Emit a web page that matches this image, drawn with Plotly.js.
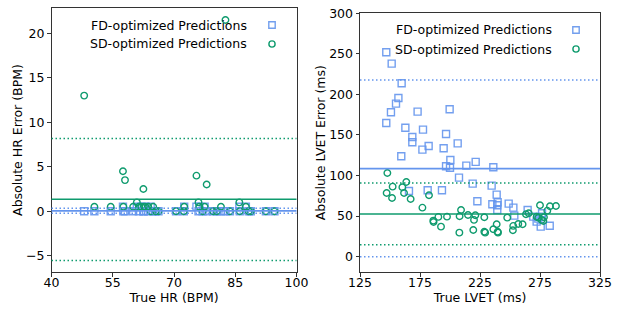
<!DOCTYPE html>
<html>
<head>
<meta charset="utf-8">
<script src="https://cdn.plot.ly/plotly-3.0.1.min.js"></script>
<style>html,body{margin:0;padding:0;background:#fff}#chart{width:623px;height:312px}</style>
</head>
<body>
<div id="chart"></div>
<script>
// ---------- HR panel data ----------
const hrTrue = [48.0, 50.5, 54.5, 57.5, 57.6, 58.0, 60.0, 60.9, 61.4, 62.0, 62.5, 62.6, 63.0, 63.7, 64.3, 64.9, 65.5, 66.2, 70.5, 72.4, 72.5, 75.5, 76.0, 76.2, 77.0, 77.5, 78.0, 79.6, 80.5, 81.5, 82.6, 83.7, 86.0, 86.1, 87.6, 88.3, 88.8, 92.5, 94.6];
const hrErrFD = [0, 0, 0, 0.5, 0, 0, 0, 0.5, 0, 0.5, 0, 0, 0.5, 0, 0.5, 0, 0, 0, 0, 0, 0.5, 0.5, 0, 0.5, 0, 0.5, 0, 0, 0, 0, 0, 0, 0.5, 0, 0.5, 0, 0, 0, 0];
const hrErrSD = [13.0, 0.5, 0.5, 4.5, 0.5, 3.5, 0.5, 1.0, 0.5, 0.5, 2.5, 0.5, 0.5, 0.5, 0, 0.5, 0, 0, 0, 0, 0.5, 4.0, 1.0, 0.5, 0, 0.5, 3.0, 0, 0, 0.5, 21.5, 0, 1.0, 0, 0.5, 0, 0, 0, 0];
// mean / limit lines [lower, mean, upper]
const hrLinesFD = [-0.22, 0.04, 0.34];
const hrLinesSD = [-5.55, 1.35, 8.18];

// ---------- LVET panel data ----------
const lvetTrueFD = [146.9, 151.4, 159.7, 157.0, 155.0, 150.8, 173.0, 199.7, 146.9, 162.8, 177.5, 196.7, 168.6, 168.6, 182.2, 177.0, 194.7, 206.4, 159.4, 200.3, 196.7, 200.0, 213.6, 221.4, 236.1, 207.5, 218.9, 234.7, 165.8, 181.4, 193.3, 238.9, 222.8, 239.7, 248.9, 235.3, 239.4, 252.8, 264.7, 239.4, 253.6, 269.4, 276.7, 273.6, 272.2, 275.6, 283.1, 276.4];
const lvetErrFD = [252, 238, 213.7, 195.6, 188.7, 178, 178.8, 181.7, 164.8, 159, 156.6, 151.3, 147.6, 141, 136.5, 132, 133.6, 139.7, 123.7, 119.2, 111.4, 109.7, 112.2, 116.8, 110.2, 97.4, 90, 87.6, 81, 81.8, 81.8, 76.5, 68.3, 67.1, 65.4, 64.6, 63.4, 60.4, 57.6, 57.6, 50.6, 49.3, 53.5, 46.9, 43.2, 37, 38.2, 49.3];
const lvetTrueSD = [147.8, 152.2, 147.2, 151.7, 160.3, 163.6, 161.7, 167.2, 177.0, 182.5, 186.1, 186.3, 190.3, 192.5, 197.5, 207.8, 208.0, 209.2, 215.0, 219.4, 220.0, 221.1, 228.6, 228.6, 229.3, 236.1, 238.9, 240.0, 239.7, 247.7, 252.7, 252.4, 256.9, 260.5, 263.3, 265.6, 272.2, 273.6, 275.0, 276.4, 277.8, 281.1, 283.3, 288.3, 278.3];
const lvetErrSD = [103.2, 86.3, 78.5, 72.4, 85.6, 92.1, 78.5, 71.1, 60.4, 75.7, 44.4, 42.8, 49.0, 37.0, 49.3, 29.6, 49.8, 57.6, 51.4, 32.9, 45.3, 51.0, 48.6, 30.8, 29.6, 33.8, 39.9, 29.6, 30.8, 48.1, 37.9, 32.5, 40.3, 39.9, 52.3, 53.5, 49.3, 48.0, 63.4, 45.3, 44.0, 56.7, 62.1, 62.5, 48.6];
const lvetLinesFD = [0, 108.5, 217.8];
const lvetLinesSD = [14.8, 52.6, 90.8];

// ---------- tick labels ----------
const hrXTicks = [40, 55, 70, 85, 100];
const hrYTicks = [-5, 0, 5, 10, 15, 20];
const lvetXTicks = [125, 175, 225, 275, 325];
const lvetYTicks = [0, 50, 100, 150, 200, 250, 300];

const legendLabels = ['FD-optimized Predictions', 'SD-optimized Predictions'];

const BLUE = '#6495ED';
const GREEN = '#0f9b6e';
const FONT = 'DejaVu Sans, Liberation Sans, sans-serif';
const FS = 12.5;
const W = 623, H = 312;

const sq = {symbol: 'square-open', size: 7, color: BLUE, opacity: 0.9, line: {width: 1.4, color: BLUE}};
const ci = {symbol: 'circle-open', size: 6.5, color: GREEN, line: {width: 1.4, color: GREEN}};

const traces = [
  {x: hrTrue, y: hrErrFD, type: 'scatter', mode: 'markers', marker: sq, xaxis: 'x', yaxis: 'y', name: legendLabels[0], showlegend: false},
  {x: hrTrue, y: hrErrSD, type: 'scatter', mode: 'markers', marker: ci, xaxis: 'x', yaxis: 'y', name: legendLabels[1], showlegend: false},
  {x: lvetTrueFD, y: lvetErrFD, type: 'scatter', mode: 'markers', marker: sq, xaxis: 'x2', yaxis: 'y2', name: legendLabels[0], showlegend: false},
  {x: lvetTrueSD, y: lvetErrSD, type: 'scatter', mode: 'markers', marker: ci, xaxis: 'x2', yaxis: 'y2', name: legendLabels[1], showlegend: false}
];

function hline(val, axis, color, solid) {
  return {type: 'line', xref: axis.x + ' domain', yref: axis.y, x0: 0, x1: 1, y0: val, y1: val,
    line: {color: color, width: solid ? 1.6 : 1.5, dash: solid ? 'solid' : '1.5px,2.5px'}, layer: 'above'};
}
const shapes = [];
const A1 = {x: 'x', y: 'y'}, A2 = {x: 'x2', y: 'y2'};
[[hrLinesFD, A1, BLUE], [hrLinesSD, A1, GREEN], [lvetLinesFD, A2, BLUE], [lvetLinesSD, A2, GREEN]].forEach(([arr, ax, col]) => {
  shapes.push(hline(arr[0], ax, col, false));
  shapes.push(hline(arr[1], ax, col, true));
  shapes.push(hline(arr[2], ax, col, false));
});

// legend (text first, marker after) in paper px
const px = v => v / W, py = v => 1 - v / H;
const annotations = [];
function legend(textRight, markerX, rowY) {
  rowY.forEach((yy, i) => {
    annotations.push({xref: 'paper', yref: 'paper', x: px(textRight), y: py(yy), xanchor: 'right', yanchor: 'middle',
      text: legendLabels[i], showarrow: false, font: {family: FONT, size: FS, color: '#000'}});
  });
  const s = 3.2;
  shapes.push({type: 'rect', xref: 'paper', yref: 'paper', x0: px(markerX - s), x1: px(markerX + s), y0: py(rowY[0] - s), y1: py(rowY[0] + s),
    line: {color: BLUE, width: 1.4}, opacity: 0.9});
  const r = 3.1;
  shapes.push({type: 'circle', xref: 'paper', yref: 'paper', x0: px(markerX - r), x1: px(markerX + r), y0: py(rowY[1] - r), y1: py(rowY[1] + r),
    line: {color: GREEN, width: 1.4}});
}
legend(249, 272, [25, 44]);
legend(554, 576, [30, 49]);

function axisBase(extra) {
  return Object.assign({
    showgrid: false, zeroline: false, showline: true, mirror: true, linecolor: '#333', linewidth: 1,
    ticks: 'outside', ticklen: 3.5, tickwidth: 1, tickcolor: '#333',
    tickfont: {family: FONT, size: FS, color: '#000'}, automargin: false, fixedrange: true
  }, extra);
}

const layout = {
  width: W, height: H, margin: {l: 0, r: 0, t: 0, b: 0}, paper_bgcolor: '#fff', plot_bgcolor: '#fff',
  showlegend: false, font: {family: FONT, size: FS, color: '#000'},
  xaxis: axisBase({domain: [51.5 / W, 296.5 / W], range: [40, 100], tickvals: hrXTicks, ticktext: hrXTicks.map(String), anchor: 'y',
    ticklabelstandoff: -5,
    title: {text: 'True HR (BPM)', font: {family: FONT, size: FS, color: '#000'}, standoff: 0}}),
  yaxis: axisBase({domain: [1 - 272 / H, 1 - 8 / H], range: [-6.83, 22.85], tickvals: hrYTicks, ticktext: hrYTicks.map(v => v < 0 ? '\u2212' + Math.abs(v) : String(v)), anchor: 'x',
    title: {text: 'Absolute HR Error (BPM)', font: {family: FONT, size: FS, color: '#000'}, standoff: 0}}),
  xaxis2: axisBase({domain: [360 / W, 600 / W], range: [125, 325], tickvals: lvetXTicks, ticktext: lvetXTicks.map(String), anchor: 'y2',
    ticklabelstandoff: -5,
    title: {text: 'True LVET (ms)', font: {family: FONT, size: FS, color: '#000'}, standoff: 0}}),
  yaxis2: axisBase({domain: [1 - 272 / H, 1 - 13.3 / H], range: [-18.9, 300], tickvals: lvetYTicks, ticktext: lvetYTicks.map(String), anchor: 'x2',
    title: {text: 'Absolute LVET Error (ms)', font: {family: FONT, size: FS, color: '#000'}, standoff: 0}}),
  shapes: shapes, annotations: annotations
};

Plotly.newPlot('chart', traces, layout, {displayModeBar: false, staticPlot: true});
</script>
</body>
</html>
